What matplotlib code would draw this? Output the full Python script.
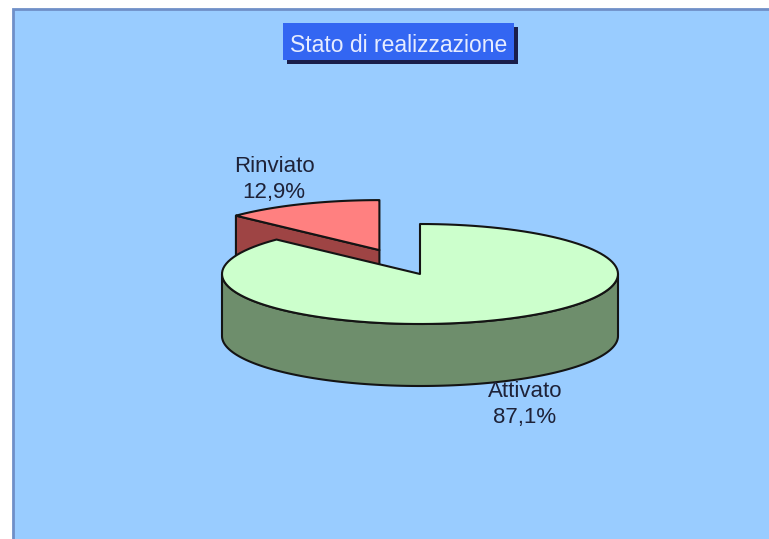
import numpy as np
import matplotlib
matplotlib.use("Agg")
import matplotlib.pyplot as plt
from matplotlib.patches import Polygon, Rectangle

plt.rcParams['font.family'] = ['Liberation Sans', 'DejaVu Sans']

# data
labels = ['Attivato', 'Rinviato']
values = [87.1, 12.9]
pct_text = ['87,1%', '12,9%']
title = 'Stato di realizzazione'

top_colors = ['#CCFFCC', '#FF8080']
side_colors = ['#6E8E6C', '#9E4444']
explode = [0.0, 0.52]

# layout (pixels)
W, H = 769, 539
cx, cy = 420, 274
ra, rb = 198, 50
depth = 62
edge = '#141414'
label_pos = [(525, 397), (274, 172)]   # baseline of first line

fig = plt.figure(figsize=(W / 100, H / 100), dpi=100)
fig.patch.set_facecolor('white')
ax = fig.add_axes([0, 0, 1, 1])
ax.set_xlim(0, W)
ax.set_ylim(H, 0)
ax.axis('off')

# chart area
ax.add_patch(Rectangle((13, 9), W, H, facecolor='#99CCFF', edgecolor='#6F8FC8', lw=2))


def pt(x0, y0, ang, dz=0.0):
    a = np.radians(ang)
    return x0 + ra * np.cos(a), y0 - rb * np.sin(a) + dz


def arc(x0, y0, a1, a2, dz=0.0, n=120):
    t = np.linspace(a1, a2, n)
    xs, ys = pt(x0, y0, t, dz)
    return np.column_stack([xs, ys])


# slice angles: start at 12 o'clock, clockwise
total = sum(values)
slices = []
start = 90.0
for i, v in enumerate(values):
    span = 360.0 * v / total
    a2 = start
    a1 = start - span
    slices.append((i, a1, a2))
    start = a1

# draw back slices first (by mid angle: higher sin = further back)
order = sorted(slices, key=lambda s: -np.sin(np.radians((s[1] + s[2]) / 2)))
for i, a1, a2 in order:
    mid = np.radians((a1 + a2) / 2)
    ox = cx + explode[i] * ra * np.cos(mid)
    oy = cy - explode[i] * rb * np.sin(mid)
    # radial faces
    for ang, sign in ((a1, 1), (a2, -1)):
        c = np.cos(np.radians(ang)) * sign
        if c > 0.05:
            ex, ey = pt(ox, oy, ang)
            face = [(ox, oy), (ex, ey), (ex, ey + depth), (ox, oy + depth)]
            ax.add_patch(Polygon(face, closed=True, facecolor=side_colors[i],
                                 edgecolor=edge, lw=1.5, joinstyle='round'))
    # outer wall on the front half
    for k in range(-1, 3):
        lo = max(a1, 180 + 360 * k)
        hi = min(a2, 360 + 360 * k)
        if hi > lo:
            topa = arc(ox, oy, lo, hi)
            bota = arc(ox, oy, hi, lo, depth)
            ax.add_patch(Polygon(np.vstack([topa, bota]), closed=True,
                                 facecolor=side_colors[i], edgecolor=edge,
                                 lw=1.5, joinstyle='round'))
    # top face
    top = np.vstack([[(ox, oy)], arc(ox, oy, a1, a2)])
    ax.add_patch(Polygon(top, closed=True, facecolor=top_colors[i],
                         edgecolor=edge, lw=1.5, joinstyle='round'))

# labels
for i, (lx, ly) in enumerate(label_pos):
    ax.text(lx, ly, labels[i], ha='center', va='baseline', fontsize=16,
            color='#1E2238')
    ax.text(lx, ly + 26, pct_text[i], ha='center', va='baseline', fontsize=16,
            color='#1E2238')

# title box with shadow
ax.add_patch(Rectangle((287, 27), 231, 37, facecolor='#1A1E4A', edgecolor='none'))
ax.add_patch(Rectangle((283, 23), 231, 37, facecolor='#3366F2', edgecolor='none'))
ax.text(399, 52, title, ha='center', va='baseline', fontsize=16.5, color='#E6ECFF')

fig.savefig('out.png', dpi=100, facecolor='white')
